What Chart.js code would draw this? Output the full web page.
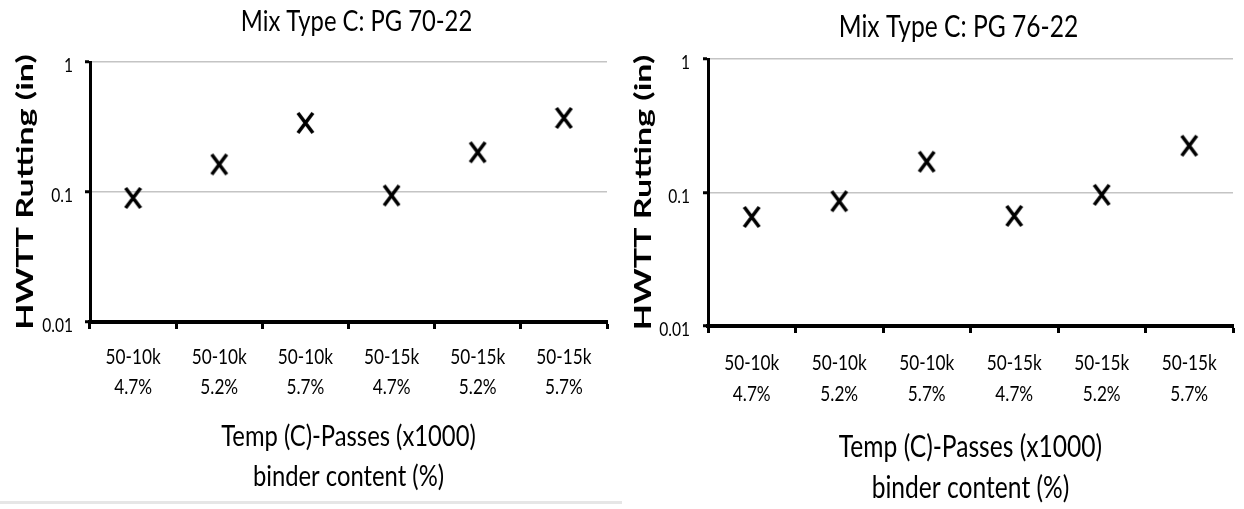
<!DOCTYPE html>
<html>
<head>
<meta charset="utf-8">
<title>HWTT Rutting – Mix Type C</title>
<script src="https://cdn.jsdelivr.net/npm/chart.js@4"></script>
<style>
  html, body { margin: 0; padding: 0; background: #fff; }
  body { width: 1244px; height: 509px; position: relative; overflow: hidden; }
  .panel { position: absolute; top: 0; height: 509px; }
  #panelA { left: 0; width: 620px; }
  #panelB { left: 620px; width: 624px; }
  .rule { position: absolute; left: 0; top: 501px; width: 622px; height: 3px; background: #e6e6e6; }
</style>
</head>
<body>
<div class="rule"></div>
<div class="panel" id="panelA"><canvas id="chartA" width="620" height="509"></canvas></div>
<div class="panel" id="panelB"><canvas id="chartB" width="624" height="509"></canvas></div>
<script>
// Category labels (test temperature - passes / binder content)
const categories = [
  ['50-10k', '4.7%'], ['50-10k', '5.2%'], ['50-10k', '5.7%'],
  ['50-15k', '4.7%'], ['50-15k', '5.2%'], ['50-15k', '5.7%']
];
// HWTT rut depth, inches
const rutPG7022 = [0.090, 0.163, 0.340, 0.094, 0.202, 0.371];
const rutPG7622 = [0.0656, 0.086, 0.170, 0.0668, 0.096, 0.224];
// Log axis decades
const yTickValues = [0.01, 0.1, 1];

const titleA = 'Mix Type C: PG 70-22';
const titleB = 'Mix Type C: PG 76-22';
const xTitle = ['Temp (C)-Passes (x1000)', 'binder content (%)'];
const yTitle = 'HWTT Rutting (in)';

const face = "Lato, 'Open Sans', sans-serif";

// "x" marker drawn once into a small canvas and used as the point style
function crossMark(w, h, lw) {
  const c = document.createElement('canvas');
  c.width = w + 4; c.height = h + 4;
  const g = c.getContext('2d');
  g.strokeStyle = '#000';
  g.lineWidth = lw;
  g.beginPath();
  g.moveTo(2, 2); g.lineTo(2 + w, 2 + h);
  g.moveTo(2 + w, 2); g.lineTo(2, 2 + h);
  g.stroke();
  return c;
}
const mark = crossMark(15, 20, 3.6);

// Narrow lettering: every label is drawn horizontally condensed
// (rotated labels get their glyph height condensed instead).
const condensedText = {
  id: 'condensedText',
  beforeInit(chart, args, opts) {
    const ctx = chart.ctx;
    const base = ctx.fillText.bind(ctx);
    ctx.fillText = function (text, x, y, maxWidth) {
      const m = ctx.getTransform();
      const rotated = Math.abs(m.b) > Math.abs(m.a);
      ctx.save();
      ctx.translate(x, y);
      if (rotated) ctx.scale(1, opts.kRot); else ctx.scale(opts.k, 1);
      if (maxWidth === undefined) base(text, 0, 0);
      else base(text, 0, 0, rotated ? maxWidth : maxWidth / opts.k);
      ctx.restore();
    };
  }
};

// Panel heading centred over the plot area
const panelTitle = {
  id: 'panelTitle',
  afterDraw(chart, args, opts) {
    const { ctx, chartArea } = chart;
    ctx.save();
    ctx.font = opts.font;
    ctx.fillStyle = '#000';
    ctx.textAlign = 'center';
    ctx.textBaseline = 'middle';
    ctx.fillText(opts.text, (chartArea.left + chartArea.right) / 2 + opts.shift, opts.y);
    ctx.restore();
  }
};

function buildChart(id, values, title, g) {
  return new Chart(document.getElementById(id), {
    type: 'line',
    data: {
      labels: categories,
      datasets: [{
        data: values,
        showLine: false,
        pointStyle: mark,
        pointRadius: 10,
        pointHoverRadius: 10,
        borderColor: '#000',
        backgroundColor: '#000'
      }]
    },
    options: {
      responsive: false,
      animation: false,
      devicePixelRatio: 1,
      events: [],
      layout: { padding: { top: g.top, right: g.right, left: 0, bottom: 0 } },
      plugins: {
        legend: { display: false },
        tooltip: { enabled: false },
        condensedText: { k: 0.82, kRot: 0.68 },
        panelTitle: { text: title, font: `${g.titleSize}px ${face}`, y: g.titleY, shift: g.titleShift }
      },
      scales: {
        x: {
          type: 'category',
          offset: true,
          afterFit: (s) => { s.height = g.xHeight; },
          border: { color: '#000', width: 4 },
          grid: { offset: true, drawOnChartArea: false, tickColor: '#000', tickWidth: 3, tickLength: 7 },
          ticks: {
            color: '#000', maxRotation: 0, autoSkip: false, padding: g.xTickPad,
            font: { family: face, size: g.tickSize, lineHeight: g.tickLH }
          },
          title: {
            display: true, text: xTitle, color: '#000',
            font: { family: face, size: g.axisSize, lineHeight: g.axisLH },
            padding: { top: 0, bottom: g.xTitlePad }
          }
        },
        y: {
          type: 'logarithmic',
          min: 0.01,
          max: 1,
          afterBuildTicks: (s) => { s.ticks = yTickValues.map(v => ({ value: v })); },
          afterFit: (s) => { s.width = g.yWidth; },
          border: { color: '#000', width: 3 },
          grid: { color: '#c4c4c4', lineWidth: 1.5, tickColor: '#000', tickWidth: 3, tickLength: 5 },
          ticks: {
            color: '#000', padding: g.yTickPad, labelOffset: 4,
            font: { family: face, size: g.yTickSize },
            callback: (v) => String(v)
          },
          title: {
            display: true, text: yTitle, color: '#000',
            font: { family: face, weight: 'bold', size: g.yTitleSize, lineHeight: 1.2 },
            padding: { top: g.yTitlePad, bottom: 0 }
          }
        }
      }
    },
    plugins: [condensedText, panelTitle]
  });
}

buildChart('chartA', rutPG7022, titleA, {
  top: 62, right: 13, yWidth: 90, xHeight: 187,
  titleSize: 29, titleY: 22, titleShift: 8,
  tickSize: 21, tickLH: '30px', xTickPad: 13,
  axisSize: 29, axisLH: '40px', xTitlePad: 12,
  yTickSize: 19, yTickPad: 12, yTitleSize: 34, yTitlePad: 5
});

buildChart('chartB', rutPG7622, titleB, {
  top: 59, right: 4, yWidth: 88, xHeight: 183,
  titleSize: 30, titleY: 27, titleShift: -12,
  tickSize: 21, tickLH: '31px', xTickPad: 15,
  axisSize: 30, axisLH: '41px', xTitlePad: 0,
  yTickSize: 19, yTickPad: 13, yTitleSize: 34, yTitlePad: 3
});
</script>
</body>
</html>
